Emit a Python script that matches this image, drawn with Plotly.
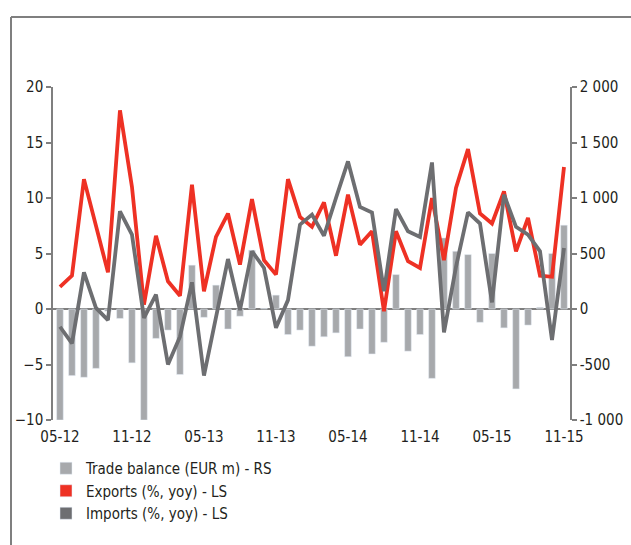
import plotly.graph_objects as go

months = ["05-12","06-12","07-12","08-12","09-12","10-12","11-12","12-12",
          "01-13","02-13","03-13","04-13","05-13","06-13","07-13","08-13","09-13","10-13","11-13","12-13",
          "01-14","02-14","03-14","04-14","05-14","06-14","07-14","08-14","09-14","10-14","11-14","12-14",
          "01-15","02-15","03-15","04-15","05-15","06-15","07-15","08-15","09-15","10-15","11-15"]

exports = [2.0, 3.0, 11.7, 7.4, 3.3, 17.9, 11.0, 0.4, 6.6, 2.5, 1.2, 11.2, 1.6, 6.5, 8.6, 4.0, 9.9, 4.4,
           3.1, 11.7, 8.3, 7.4, 9.6, 4.8, 10.3, 5.8, 7.0, -0.2, 7.0, 4.3, 3.7, 10.0, 4.4, 10.9, 14.4,
           8.6, 7.7, 10.6, 5.2, 8.2, 3.0, 2.9, 12.8]

imports = [-1.6, -3.1, 3.3, 0.1, -1.0, 8.8, 6.7, -0.8, 1.3, -5.0, -2.5, 2.4, -6.0, -0.9, 4.5, -0.1, 5.2, 3.7,
           -1.7, 0.8, 7.6, 8.5, 6.6, 10.0, 13.3, 9.2, 8.7, 1.6, 9.0, 7.0, 6.5, 13.2, -2.1, 3.8, 8.7,
           7.7, 0.6, 10.3, 7.4, 6.7, 5.2, -2.8, 5.5]

trade_balance = [-1000, -600, -615, -535, -20, -85, -485, -1000, -265, -190, -590, 395, -75, 215, -180, -65, 530, 5,
                 125, -230, -190, -335, -250, -215, -430, -180, -405, -300, 310, -380, -230, -625, 640, 520, 490,
                 -120, 500, -170, -720, -145, 15, 500, 755]

left_ticks = [-10, -5, 0, 5, 10, 15, 20]
right_ticks = [-1000, -500, 0, 500, 1000, 1500, 2000]
right_tick_text = ["-1 000", "-500", "0", "500", "1 000", "1 500", "2 000"]

RED = "#EE3124"
DGRAY = "#6D6E71"
LGRAY = "#A7A9AC"
AXC = "#7F7F7F"
FONT = "Liberation Sans Narrow, DejaVu Sans Condensed, Arial Narrow, sans-serif"

idx = list(range(len(months)))
label_idx = idx[::6]
boundary = [i + 5.5 for i in idx[::6]][:-1]

fig = go.Figure()
fig.add_trace(go.Bar(x=idx, y=trade_balance, marker_color=LGRAY, width=0.55,
                     name="Trade balance (EUR m) - RS", yaxis="y", xaxis="x"))
fig.add_trace(go.Scatter(x=idx, y=exports, mode="lines", line=dict(color=RED, width=3.8),
                         name="Exports (%, yoy) - LS", yaxis="y2", xaxis="x", showlegend=False))
fig.add_trace(go.Scatter(x=idx, y=imports, mode="lines", line=dict(color=DGRAY, width=3.8),
                         name="Imports (%, yoy) - LS", yaxis="y2", xaxis="x", showlegend=False))
# legend-only square markers
fig.add_trace(go.Bar(x=[None], y=[None], marker_color=RED, name="Exports (%, yoy) - LS", yaxis="y"))
fig.add_trace(go.Bar(x=[None], y=[None], marker_color=DGRAY, name="Imports (%, yoy) - LS", yaxis="y"))

PW, PH, L, T = 517, 333, 53, 87
def px(x):
    return (x - L) / PW
def py(y):
    return (T + PH - y) / PH

xr = [-0.58, 42.5]
fig.update_layout(
    width=631, height=545,
    margin=dict(l=53, r=61, t=87, b=125, autoexpand=False),
    paper_bgcolor="white", plot_bgcolor="white",
    barmode="overlay",
    font=dict(family=FONT, size=15, color="#231F20"),
    xaxis=dict(range=xr, tickvals=label_idx, ticktext=[months[i] for i in label_idx],
               showgrid=False, zeroline=False, showline=False, ticks="", tickfont=dict(size=15),
               ticklabelstandoff=6),
    xaxis2=dict(range=xr, overlaying="x", anchor="free", position=1/3, tickvals=boundary,
                ticks="outside", ticklen=4, tickcolor=AXC, tickwidth=1, showticklabels=False,
                showgrid=False, zeroline=False, showline=False),
    yaxis=dict(range=[-1000, 2000], side="right", tickvals=right_ticks, ticktext=right_tick_text,
               showgrid=False, zeroline=False, showline=True, linecolor=AXC, linewidth=1.5,
               ticks="outside", ticklen=5, tickcolor=AXC, tickwidth=1.5),
    yaxis2=dict(range=[-10, 20], side="left", overlaying="y", tickvals=left_ticks,
                showgrid=False, zeroline=True, zerolinecolor=AXC, zerolinewidth=1.5,
                showline=True, linecolor=AXC, linewidth=1.5,
                ticks="outside", ticklen=5, tickcolor=AXC, tickwidth=1.5),
    legend=dict(x=px(46), y=py(452), xanchor="left", yanchor="top", font=dict(size=15),
                traceorder="normal", bgcolor="rgba(0,0,0,0)", itemclick=False),
    showlegend=True,
    shapes=[
        dict(type="line", xref="paper", yref="paper", x0=px(11), x1=px(11),
             y0=py(17), y1=py(546), line=dict(color=AXC, width=2)),
        dict(type="line", xref="paper", yref="paper", x0=px(11), x1=px(632),
             y0=py(17), y1=py(17), line=dict(color=AXC, width=2)),
    ],
)

fig.write_html("out.html")
